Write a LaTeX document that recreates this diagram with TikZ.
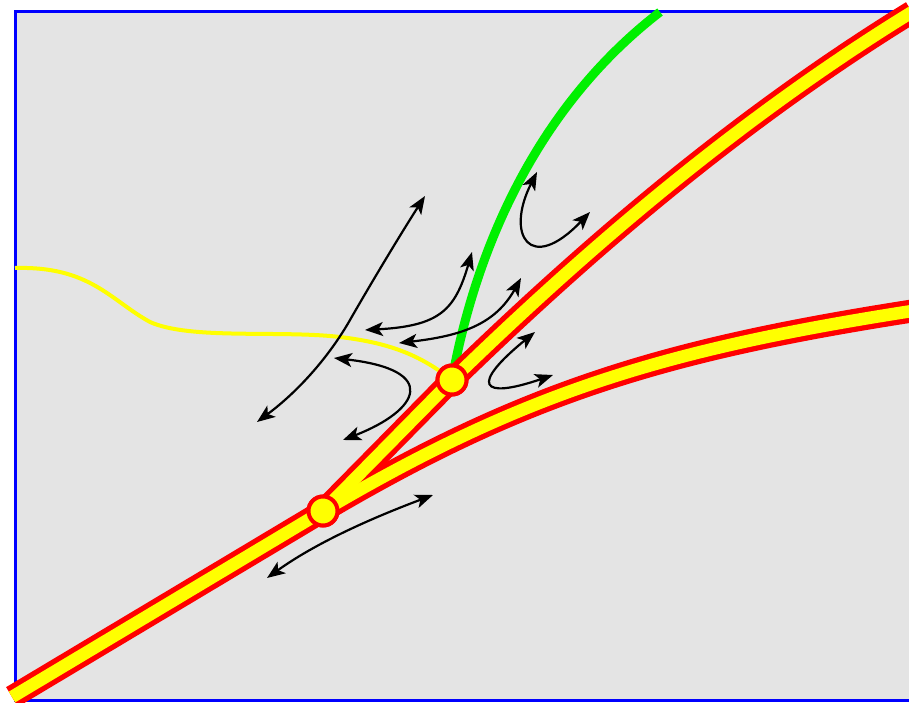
\documentclass[tikz,border=0pt]{standalone}
\usetikzlibrary{arrows.meta}
\definecolor{bgray}{HTML}{E4E4E4}
\definecolor{fblue}{HTML}{0000FF}
\definecolor{tred}{HTML}{FF0000}
\definecolor{tyellow}{HTML}{FFFF00}
\definecolor{tgreen}{HTML}{00F000}
\tikzset{
  frame/.style={draw=fblue, fill=bgray, line width=3pt},
  trackouter/.style={draw=tred, line width=23pt},
  trackinner/.style={draw=tyellow, line width=12.5pt},
  junction/.style={circle, draw=tred, fill=tyellow, line width=4pt, minimum size=29pt, inner sep=0pt},
  greenline/.style={draw=tgreen, line width=9pt},
  thinyellow/.style={draw=tyellow, line width=4pt},
  flow/.style={draw=black, line width=2.2pt, {Stealth[length=18pt,width=14pt,inset=4.5pt]}-{Stealth[length=18pt,width=14pt,inset=4.5pt]}}
}
\begin{document}
\begin{tikzpicture}[x=1pt,y=-1pt]
\useasboundingbox (0,0) rectangle (909,703);
\clip (0,0) rectangle (909,703);
\path[frame] (15,12) rectangle (920,700);
% coordinates
\coordinate (BL) at (12,697);
\coordinate (TR) at (912,12);
\coordinate (RR) at (912,311);
\coordinate (G1) at (660,12);
\coordinate (Y0) at (15,268);
\node[junction] (A) at (323,511) {};
\node[junction] (B) at (452,380) {};
% thin yellow line
\draw[thinyellow] (Y0) .. controls (90,266) and (110,300) .. (150,322)
  .. controls (190,340) and (280,330) .. (340,337)
  .. controls (390,343) and (420,355) .. (B.center);
% green line
\draw[greenline] (B.center) .. controls (470,280) and (520,120) .. (G1);
% tracks
\draw[trackouter] (BL) -- (A.center) -- (B.center) .. controls (560,275) and (720,130) .. (TR);
\draw[trackouter] (A.center) .. controls (523,393) and (662,350) .. (RR);
\draw[trackinner] (BL) -- (A.center) -- (B.center) .. controls (560,275) and (720,130) .. (TR);
\draw[trackinner] (A.center) .. controls (523,393) and (662,350) .. (RR);
\node[junction] at (A) {};
\node[junction] at (B) {};
% arrows
\coordinate (a1s) at (257,422); \coordinate (a1e) at (425,196);
\coordinate (a2s) at (365,330); \coordinate (a2e) at (472,252);
\coordinate (a3s) at (399,343); \coordinate (a3e) at (521,278);
\coordinate (a4s) at (334,358); \coordinate (a4e) at (343,440);
\coordinate (a5s) at (537,172); \coordinate (a5e) at (590,212);
\coordinate (a6s) at (535,332); \coordinate (a6e) at (553,375);
\coordinate (a7s) at (267,578); \coordinate (a7e) at (433,495);
\draw[flow] (a1s) .. controls (300,390) and (330,355) .. (350,320) .. controls (370,285) and (400,235) .. (a1e);
\draw[flow] (a2s) .. controls (440,326) and (455,310) .. (a2e);
\draw[flow] (a3s) .. controls (460,336) and (495,325) .. (a3e);
\draw[flow] (a4s) .. controls (440,370) and (420,410) .. (a4e);
\draw[flow] (a5s) .. controls (505,235) and (530,275) .. (a5e);
\draw[flow] (a6s) .. controls (470,385) and (480,400) .. (a6e);
\draw[flow] (a7s) .. controls (320,540) and (380,515) .. (a7e);
\end{tikzpicture}
\end{document}
